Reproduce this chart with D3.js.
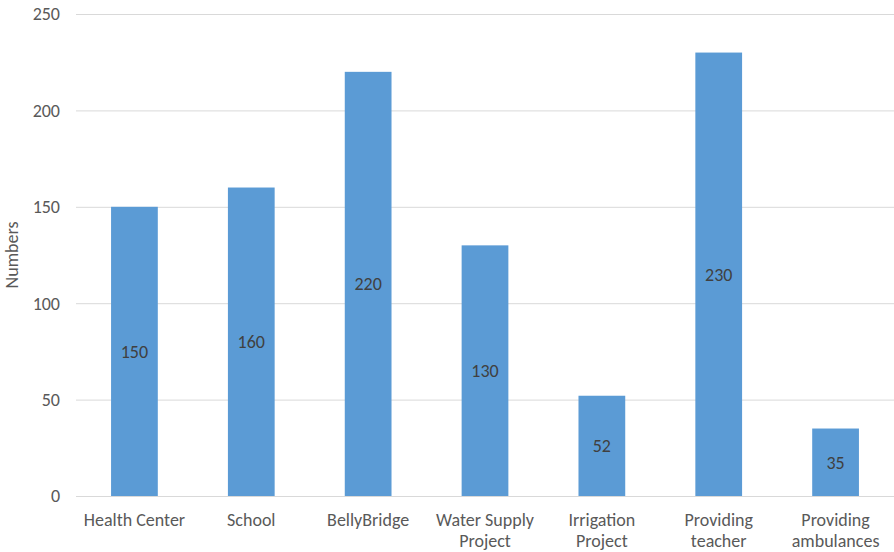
<!DOCTYPE html>
<html><head><meta charset="utf-8">
<script src="https://cdn.jsdelivr.net/npm/d3@7"></script>
<style>body{margin:0;background:#fff}svg{display:block}text{font-family:Carlito,"Open Sans","Liberation Sans",sans-serif}</style>
</head><body><svg id="c" width="894" height="552"></svg>
<script>
const categories = [["Health Center"],["School"],["BellyBridge"],["Water Supply","Project"],["Irrigation","Project"],["Providing","teacher"],["Providing","ambulances"]];
const values = [150,160,220,130,52,230,35];
const yTicks = [0,50,100,150,200,250];
const yLabel = "Numbers";

const svg = d3.select("#c");
const m = {l:76, r:0, t:14, b:56};
const W = 894, H = 552;
const FS = 18;
const x = d3.scaleBand().domain(d3.range(categories.length)).range([m.l, W - m.r]).paddingInner(0.6).paddingOuter(0.3);
const y = d3.scaleLinear().domain([0,250]).range([H - m.b, m.t]);

svg.append("g").selectAll("line").data(yTicks).join("line")
  .attr("x1", m.l).attr("x2", W).attr("y1", d=>y(d)+0.5).attr("y2", d=>y(d)+0.5)
  .attr("stroke", "#d9d9d9").attr("stroke-width", 1);

svg.append("g").selectAll("text").data(yTicks).join("text")
  .attr("x", 60).attr("y", d=>y(d)).attr("dy","0.35em").attr("text-anchor","end")
  .attr("fill","#595959").attr("font-size",FS).text(d=>d);

svg.append("g").selectAll("rect").data(values).join("rect")
  .attr("x",(d,i)=>x(i)).attr("width",x.bandwidth())
  .attr("y",d=>y(d)).attr("height",d=>y(0)-y(d)).attr("fill","#5b9bd5");

svg.append("g").selectAll("text").data(values).join("text")
  .attr("x",(d,i)=>x(i)+x.bandwidth()/2).attr("y",d=>(y(d)+y(0))/2).attr("dy","0.35em")
  .attr("text-anchor","middle").attr("fill","#404040").attr("font-size",FS).text(d=>d);

const xl = svg.append("g").selectAll("text").data(categories).join("text")
  .attr("x",(d,i)=>x(i)+x.bandwidth()/2).attr("y",520)
  .attr("text-anchor","middle").attr("fill","#595959").attr("font-size",FS);
xl.each(function(d,i){
  const t = d3.select(this);
  d.forEach((s,k)=>t.append("tspan").attr("x",x(i)+x.bandwidth()/2).attr("dy",k===0?"0.35em":"21px").text(s));
});

svg.append("text").attr("transform","translate(18,"+((y(0)+y(250))/2)+") rotate(-90)")
  .attr("text-anchor","middle").attr("fill","#595959").attr("font-size",FS).text(yLabel);
</script></body></html>
